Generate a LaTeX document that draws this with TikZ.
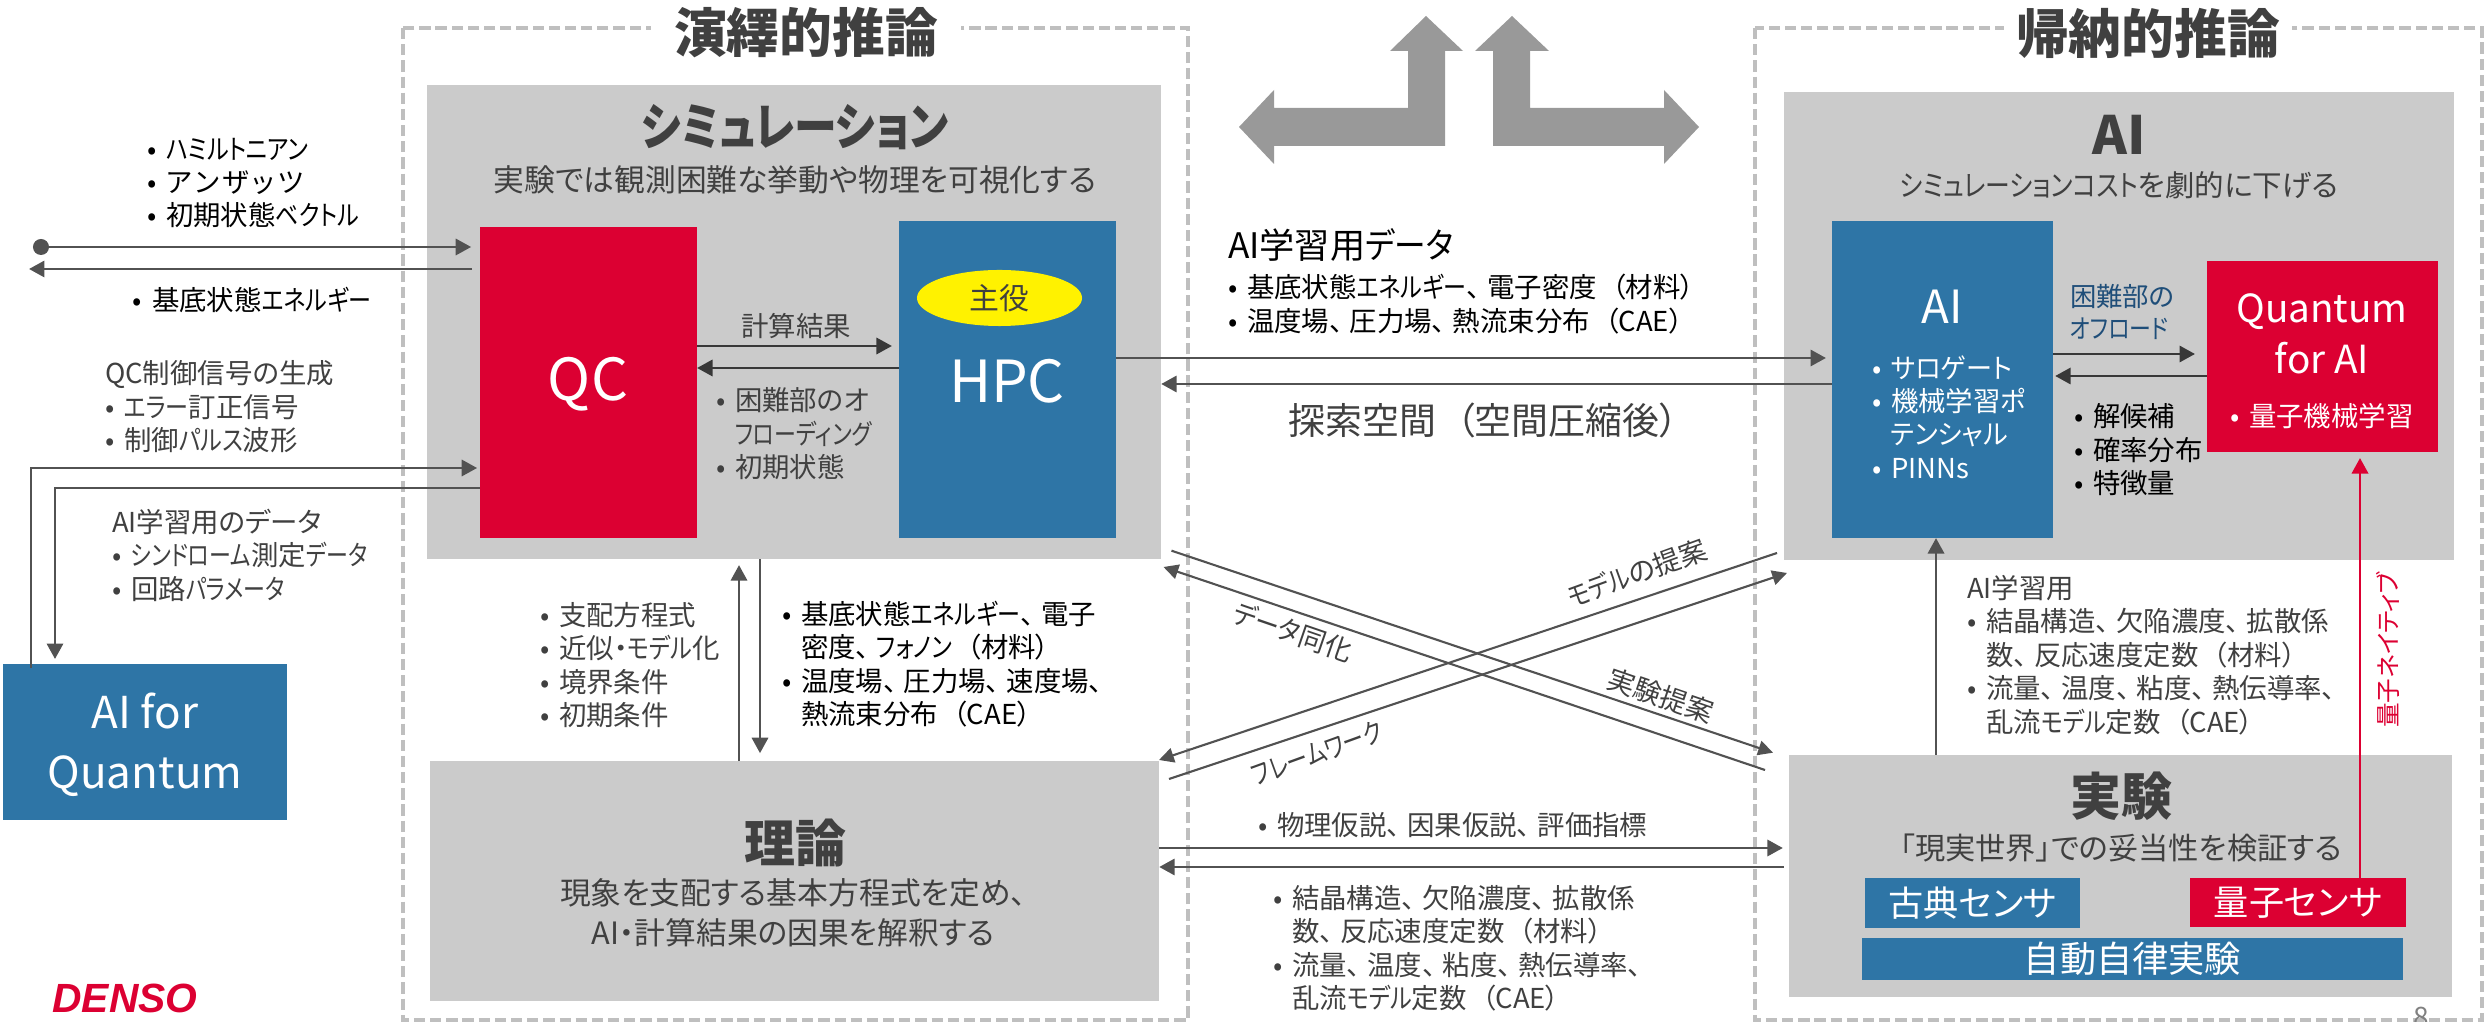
\documentclass[tikz,border=0pt]{standalone}
\usepackage{fontspec}
\setmainfont{Noto Sans CJK JP}[RawFeature={+palt}]
\newfontfamily\logofont{Liberation Sans}
\usetikzlibrary{arrows.meta, shapes.geometric}
\definecolor{panelgray}{HTML}{CBCBCB}
\definecolor{dashgray}{HTML}{BFBFBF}
\definecolor{bigarrow}{HTML}{999999}
\definecolor{boxblue}{HTML}{2E75A6}
\definecolor{boxred}{HTML}{DC0032}
\definecolor{inkdark}{HTML}{404040}
\definecolor{inkblue}{HTML}{1F4E79}
\newcommand{\bul}{\makebox[0.19cm][l]{•}}
\newcommand{\hng}{\hspace*{0.19cm}}
\newcommand{\fsz}[2]{\fontsize{#1}{#2}\selectfont}
% narrower kana, wider comma and bracket
\newcommand{\kn}[2][.84]{{\addfontfeature{FakeStretch=#1}#2}}
\newcommand{\kt}{、\hspace{.25em}}
\newcommand{\pl}{\hspace{.55em}（}
\begin{document}
\begin{tikzpicture}[
        x=0.01cm, y=-0.01cm,
        every node/.style={inner sep=0pt, outer sep=0pt},
        frame/.style={draw=dashgray, line width=1pt, dash pattern=on 3.2pt off 1.4pt},
        panel/.style={rectangle, fill=panelgray},
        bluebox/.style={rectangle, fill=boxblue, text=white},
        redbox/.style={rectangle, fill=boxred, text=white},
        note/.style={anchor=west, align=left, font=\fsz{7.8}{9.5}},
        grey/.style={note, text=inkdark},
        head/.style={font=\fsz{14.5}{17}\bfseries, text=inkdark},
        sub/.style={align=center, font=\fsz{8.75}{11.4}, text=inkdark},
        tag/.style={font=\fsz{7.8}{9.5}, text=inkdark},
        arrow/.style={-{Triangle[length=4.4pt,width=4.6pt]}, line width=0.8pt, color=black!68},
        cross/.style={-{Triangle[length=4.2pt,width=4.2pt]}, line width=0.6pt, color=black!68}
    ]
    \useasboundingbox (0,0) rectangle (2484,1022);

    % dashed frames
    \draw[frame] (403,28) rectangle (1188,1020);
    \draw[frame] (1755,28) rectangle (2482,1020);
    \node[head, font=\fsz{15}{18}\bfseries, fill=white, minimum width=3.1cm, minimum height=0.6cm] (deduct) at (806,33) {演繹的推論};
    \node[head, font=\fsz{15}{18}\bfseries, fill=white, minimum width=2.88cm, minimum height=0.6cm] (induct) at (2148,33) {帰納的推論};

    % big arrows
    \fill[bigarrow] (1239,127) -- (1274,90) -- (1274,108) -- (1408,108) -- (1408,51) -- (1390,51) -- (1426,16)
        -- (1463,51) -- (1445,51) -- (1445,146) -- (1274,146) -- (1274,164) -- cycle;
    \fill[bigarrow] (1699,127) -- (1664,90) -- (1664,108) -- (1530,108) -- (1530,51) -- (1549,51) -- (1512,16)
        -- (1475,51) -- (1493,51) -- (1493,146) -- (1664,146) -- (1664,164) -- cycle;

    % panels
    \node[panel, minimum width=7.34cm, minimum height=4.74cm] (sim) at (794,322) {};
    \node[panel, minimum width=6.70cm, minimum height=4.68cm] (ai) at (2119,326) {};
    \node[panel, minimum width=7.29cm, minimum height=2.40cm] (theory) at (794.5,881) {};
    \node[panel, minimum width=6.63cm, minimum height=2.42cm] (exp) at (2120.5,876) {};

    % inner boxes
    \node[redbox, minimum width=2.17cm, minimum height=3.11cm] (qc) at (588.5,382.5) {};
    \node[bluebox, minimum width=2.17cm, minimum height=3.17cm] (hpc) at (1007.5,379.5) {};
    \node[ellipse, fill=yellow, text=inkdark, minimum width=1.65cm, minimum height=0.56cm, font=\fsz{8.5}{10}] (lead) at (999.5,298) {主役};
    \node[bluebox, minimum width=2.84cm, minimum height=1.56cm] (aiq) at (145,742) {};
    \node[bluebox, minimum width=2.21cm, minimum height=3.17cm] (aibox) at (1942.5,379.5) {};
    \node[redbox, minimum width=2.31cm, minimum height=1.91cm] (qai) at (2322.5,356.5) {};
    \node[bluebox, minimum width=2.15cm, minimum height=0.50cm, font=\fsz{10}{12}] (classic) at (1972.5,903) {古典センサ};
    \node[redbox, minimum width=2.16cm, minimum height=0.49cm, font=\fsz{10}{12}] (qsens) at (2298,902.5) {量子センサ};
    \node[bluebox, minimum width=5.41cm, minimum height=0.42cm, font=\fsz{10.3}{12}] (auto) at (2132.5,959) {自動自律実験};

    % connectors on the left
    \node[circle, fill=black!68, minimum size=0.16cm] (dot) at (41,247) {};
    \coordinate (outq) at (29,269);
    \coordinate (ctrl) at (31,668);
    \draw[arrow, shorten >=2.5pt] (dot) -- (qc.west |- dot);
    \draw[arrow, shorten <=2.2pt] (qc.west |- outq) -- (outq);
    \draw[arrow, shorten >=0.8pt] (ctrl) |- (qc.west |- 0,468);
    \draw[arrow, shorten >=1.4pt] (qc.west |- 0,488) -| (aiq.north -| 55,0);

    % connectors between the boxes
    \draw[arrow, black!78, shorten >=2pt] (qc.east |- 0,346) -- (hpc.west |- 0,346);
    \draw[arrow, black!78] (hpc.west |- 0,368) -- (qc.east |- 0,368);
    \draw[arrow, shorten >=1.7pt] (hpc.east |- 0,358) -- (aibox.west |- 0,358);
    \draw[arrow] (aibox.west |- 0,384) -- (sim.east |- 0,384);
    \draw[arrow, black!78, shorten >=3.4pt] (aibox.east |- 0,354) -- (qai.west |- 0,354);
    \draw[arrow, black!78, shorten >=0.6pt] (qai.west |- 0,376) -- (aibox.east |- 0,376);
    \draw[arrow, boxred, shorten >=1.7pt] (qsens.north -| 2360,0) -- (qai.south -| 2360,0);
    \draw[arrow] (exp.north -| 1936,0) -- (aibox.south -| 1936,0);
    \draw[arrow, shorten >=1.7pt] (theory.north -| 739,0) -- (sim.south -| 739,0);
    \draw[arrow, shorten >=2.2pt] (sim.south -| 760,0) -- (theory.north -| 760,0);
    \draw[arrow, shorten >=1.7pt] (theory.east |- 0,848) -- (exp.west |- 0,848);
    \draw[arrow, shorten <=1.4pt] (exp.west |- 0,867) -- (theory.east |- 0,867);

    % crossing connectors
    \coordinate (suggestA) at (1171.5,550.7);
    \coordinate (suggestB) at (1773,752.7);
    \coordinate (syncA) at (1765,770);
    \coordinate (syncB) at (1163.5,567);
    \coordinate (modelA) at (1777,553);
    \coordinate (modelB) at (1159,760);
    \coordinate (frameA) at (1169,779);
    \coordinate (frameB) at (1787,573);
    \draw[cross] (suggestA) -- (suggestB);
    \draw[cross] (syncA) -- (syncB);
    \draw[cross] (modelA) -- (modelB);
    \draw[cross] (frameA) -- (frameB);

    % panel titles
    \node[head] (simhead) at (795,127) {\kn{シミュレーション}};
    \node[sub] (simsub) at (795,180) {実験では観測困難な挙動や物理を可視化する};
    \node[head, font=\fsz{15}{18}\bfseries] (aihead) at (2119,135) {AI};
    \node[sub, font=\fsz{8.4}{11}] (aisub) at (2119,185) {\kn{シミュレーションコスト}を劇的に下げる};
    \node[head] (theoryhead) at (795,843) {理論};
    \node[sub] (theorysub) at (793,913) {現象を支配する基本方程式を定め、\\AI・計算結果の因果を解釈する};
    \node[head] (exphead) at (2121,796) {実験};
    \node[sub, font=\fsz{8.6}{11}] (expsub) at (2121,848) {「現実世界」での妥当性を検証する};

    % box titles
    \node[text=white, font=\fsz{16.5}{20}] (qctitle) at (588,384) {QC};
    \node[text=white, font=\fsz{16.5}{20}] (hpctitle) at (1007,381) {HPC};
    \node[text=white, align=center, font=\fsz{12.5}{17}] (aiqtitle) at (145,745) {AI for\\Quantum};
    \node[text=white, font=\fsz{13}{16}] (aititle) at (1942,307) {AI};
    \node[text=white, align=center, font=\fsz{11}{14.6}] (qaititle) at (2322,334) {Quantum\\for AI};

    % notes on the left
    \node[note] (ansatz) at (147,183) {\bul \kn{ハミルトニアン}\\\bul ア\hspace{1pt}ン\hspace{1pt}ザ\hspace{1pt}ッ\hspace{1pt}ツ\\\bul 初期状態\kn{ベクトル}};
    \node[note] (energy) at (133,300) {\bul 基底状態\kn{エネルギー}};
    \node[grey] (pulse) at (105,407) {QC制御信号の生成\\\bul \kn{エラー}訂正信号\\\bul 制御\kn{パルス}波形};
    \node[grey] (syndrome) at (112,555) {AI学習用のデータ\\\bul \kn[.8]{シンドローム}測定\kn[.8]{データ}\\\bul 回路\kn[.8]{パラメータ}};

    % notes in the simulation part
    \node[tag] (result) at (796,326) {計算結果};
    \node[grey] (offload) at (716,434) {\bul 困難部のオ\\\hng \kn[.8]{フローディング}\\\bul 初期状態};
    \node[grey] (govern) at (540,665) {\bul 支配方程式\\\bul 近似・\kn{モデル}化\\\bul 境界条件\\\bul 初期条件};
    \node[note] (phonon) at (782,664) {\bul 基底状態\kn{エネルギー}\kt 電子\\\hng 密度\kt \kn{フォノン}\pl 材料）\\\bul 温度場\kt 圧力場\kt 速度場\kt\\\hng 熱流束分布\pl CAE）};

    % notes in the middle
    \node[note, font=\fsz{10}{12}] (traindata) at (1228,245) {AI学習用\kn[.9]{データ}};
    \node[note] (trainlist) at (1228,304) {\bul 基底状態\kn{エネルギー}\kt 電子密度\pl 材料）\\\bul 温度場\kt 圧力場\kt 熱流束分布\pl CAE）};
    \node[grey, anchor=center, font=\fsz{10.5}{12}] (space) at (1483,420) {探索空間\pl 空間圧縮後）};
    \node[grey] (hypo) at (1258,825) {\bul 物理仮説\kt 因果仮説\kt 評価指標};
    \node[grey] (crystal) at (1273,948) {\bul 結晶構造\kt 欠陥濃度\kt 拡散係\\\hng 数\kt 反応速度定数\pl 材料）\\\bul 流量\kt 温度\kt 粘度\kt 熱伝導率\kt\\\hng 乱流\kn{モデル}定数\pl CAE）};

    % labels on the crossing connectors
    \node[tag, rotate=-19] (synclabel) at (1293,632) {\kn[.9]{データ}同化};
    \node[tag, rotate=20] (modellabel) at (1637,573) {\kn{モデル}の提案};
    \node[tag, rotate=-19] (suggestlabel) at (1661,696) {実験提案};
    \node[tag, rotate=20] (framelabel) at (1317,753) {\kn[.78]{フレームワーク}};

    % notes in the AI part
    \node[note, text=white] (surrogate) at (1872,417) {\bul \kn[.95]{サロゲート}\\\bul 機械学習\kn[.95]{ポ}\\\hng \kn[.95]{テンシャル}\\\bul PINNs};
    \node[note, font=\fsz{7.5}{9.1}, text=inkblue] (hard) at (2070,312) {困難部の\\\kn[.83]{オフロード}};
    \node[note, text=white] (qml) at (2230,416) {\bul 量子機械学習};
    \node[note] (candidate) at (2074,450) {\bul 解候補\\\bul 確率分布\\\bul 特徴量};
    \node[grey] (material) at (1967,655) {AI学習用\\\bul 結晶構造\kt 欠陥濃度\kt 拡散係\\\hng 数\kt 反応速度定数\pl 材料）\\\bul 流量\kt 温度\kt 粘度\kt 熱伝導率\kt\\\hng 乱流\kn{モデル}定数\pl CAE）};
    \node[rotate=90, text=boxred, font=\fsz{7}{9}] (native) at (2388,650) {量子ネイティブ};

    % logo and page number
    \node[text=boxred, font=\logofont\fsz{11.6}{13}\bfseries\itshape] (logo) at (125,998) {DENSO};
    \node[text=black!50, font=\fsz{8}{10}] (page) at (2421,1017) {8};

\end{tikzpicture}
\end{document}
